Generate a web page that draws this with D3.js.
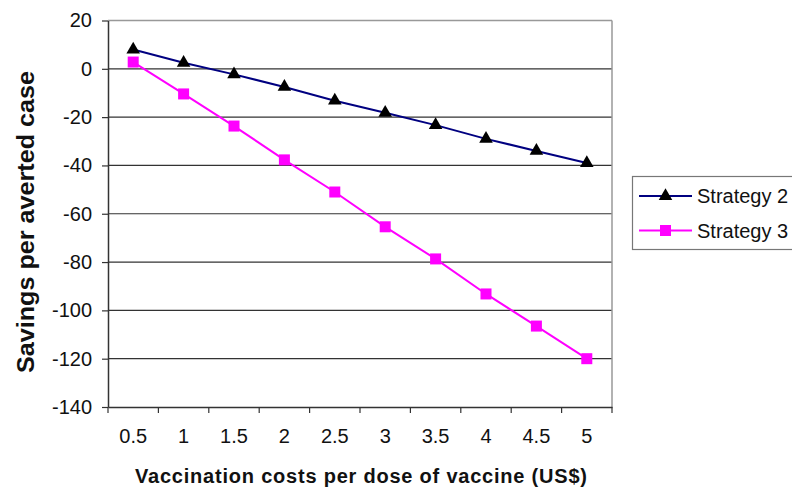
<!DOCTYPE html>
<html><head><meta charset="utf-8">
<script src="https://cdn.jsdelivr.net/npm/d3@7"></script>
<style>body{margin:0;background:#fff}svg{display:block}text{font-family:Arial,"Liberation Sans",sans-serif}</style>
</head><body><svg id="c" width="792" height="487"></svg>
<script>
const categories = ["0.5","1","1.5","2","2.5","3","3.5","4","4.5","5"];
const strategy2 = [8, 2.5, -2.3, -7.5, -13.2, -18.2, -23.3, -29, -34, -39];
const strategy3 = [2.8, -10.4, -23.7, -37.7, -51, -65.4, -78.7, -93.2, -106.5, -120];
const yTicks = [20, 0, -20, -40, -60, -80, -100, -120, -140];
const seriesNames = ["Strategy 2", "Strategy 3"];

const FONT = "Arial, 'Liberation Sans', sans-serif";
const svg = d3.select("#c");
const L = 108, R = 612, T = 20.5, B = 407;
const x = d3.scaleBand().domain(categories).range([L, R]);
const y = d3.scaleLinear().domain([-140, 20]).range([B, T]);

// gridlines
svg.append("g").selectAll("line").data(yTicks.filter(d => d !== -140 && d !== 20)).join("line")
  .attr("x1", L).attr("x2", R).attr("y1", d => y(d)).attr("y2", d => y(d))
  .attr("stroke", "#333").attr("stroke-width", 1.2);
// top & right border
svg.append("line").attr("x1", L).attr("x2", R).attr("y1", y(20)).attr("y2", y(20)).attr("stroke", "#999").attr("stroke-width", 1.5);
svg.append("line").attr("x1", R).attr("x2", R).attr("y1", T).attr("y2", B).attr("stroke", "#999").attr("stroke-width", 1.5);

// y axis
const ya = svg.append("g").attr("transform", `translate(${L},0)`)
  .call(d3.axisLeft(y).tickValues(yTicks).tickFormat(d => String(d)).tickSize(6).tickSizeOuter(0).tickPadding(10));
ya.select(".domain").attr("stroke", "#333").attr("stroke-width", 1.5);
ya.selectAll(".tick line").attr("stroke", "#333").attr("stroke-width", 1.2);
ya.selectAll(".tick text").attr("font-size", 20).attr("fill", "#111").attr("font-family", FONT);

// x axis
const xa = svg.append("g").attr("transform", `translate(0,${B})`)
  .call(d3.axisBottom(x).tickSize(0).tickPadding(22));
xa.select(".domain").attr("stroke", "#333").attr("stroke-width", 1.5);
xa.selectAll(".tick text").attr("font-size", 20).attr("fill", "#111").attr("font-family", FONT);
// band boundary ticks
const bounds = categories.map(c => x(c)).concat([R]);
svg.append("g").selectAll("line").data(bounds).join("line")
  .attr("x1", d => d).attr("x2", d => d).attr("y1", B).attr("y2", B + 6)
  .attr("stroke", "#333").attr("stroke-width", 1.2);

const cx = c => x(c) + x.bandwidth() / 2;
const line = d3.line().x((d, i) => cx(categories[i])).y(d => y(d));

svg.append("path").attr("d", line(strategy2)).attr("fill", "none").attr("stroke", "#000080").attr("stroke-width", 2);
svg.append("path").attr("d", line(strategy3)).attr("fill", "none").attr("stroke", "#FF00FF").attr("stroke-width", 2);

const tri = d3.symbol().type(d3.symbolTriangle).size(80);
svg.append("g").selectAll("path").data(strategy2).join("path")
  .attr("d", tri).attr("transform", (d, i) => `translate(${cx(categories[i])},${y(d)})`).attr("fill", "#000");
svg.append("g").selectAll("rect").data(strategy3).join("rect")
  .attr("x", (d, i) => cx(categories[i]) - 5.5).attr("y", d => y(d) - 5.5)
  .attr("width", 11).attr("height", 11).attr("fill", "#FF00FF");

// axis titles
svg.append("text").attr("transform", "translate(34,222) rotate(-90)").attr("text-anchor", "middle")
  .attr("font-size", 24).attr("font-weight", "bold").attr("fill", "#111")
  .attr("textLength", 302).attr("lengthAdjust", "spacingAndGlyphs").text("Savings per averted case");
svg.append("text").attr("x", 361).attr("y", 483).attr("text-anchor", "middle")
  .attr("font-size", 20).attr("font-weight", "bold").attr("fill", "#111")
  .attr("textLength", 452).attr("lengthAdjust", "spacing").text("Vaccination costs per dose of vaccine (US$)");

// legend
const lg = svg.append("g");
lg.append("rect").attr("x", 632.5).attr("y", 176.5).attr("width", 170).attr("height", 73).attr("fill", "#fff").attr("stroke", "#777").attr("stroke-width", 1.2);
const ly = [196, 230.5];
const lc = ["#000080", "#FF00FF"];
seriesNames.forEach((s, i) => {
  lg.append("line").attr("x1", 639).attr("x2", 692).attr("y1", ly[i]).attr("y2", ly[i]).attr("stroke", lc[i]).attr("stroke-width", 2);
  if (i === 0) lg.append("path").attr("d", tri).attr("transform", `translate(665.5,${ly[i]})`).attr("fill", "#000");
  else lg.append("rect").attr("x", 660).attr("y", ly[i] - 5.5).attr("width", 11).attr("height", 11).attr("fill", "#FF00FF");
  lg.append("text").attr("x", 697).attr("y", ly[i] + 7).attr("font-size", 20).attr("fill", "#111").attr("font-family", FONT).text(s);
});
</script></body></html>
